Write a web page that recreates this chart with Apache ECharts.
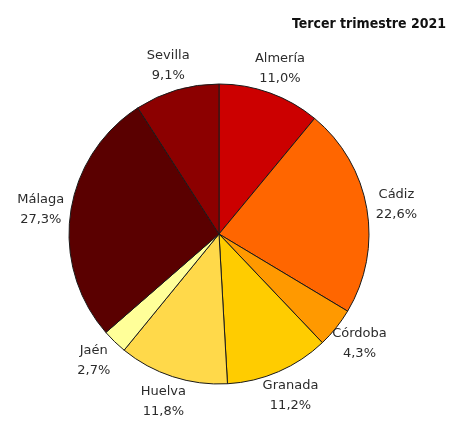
<!DOCTYPE html>
<html>
<head>
<meta charset="utf-8">
<script src="https://cdn.jsdelivr.net/npm/echarts@6/dist/echarts.min.js"></script>
<style>
  html, body { margin: 0; padding: 0; background: #fff; }
  #main { width: 453px; height: 428px; }
</style>
</head>
<body>
<div id="main"></div>
<script>
  // datos del gráfico
  var provincias = ['Almería', 'Cádiz', 'Córdoba', 'Granada', 'Huelva', 'Jaén', 'Málaga', 'Sevilla'];
  var porcentajes = [11.0, 22.6, 4.3, 11.2, 11.8, 2.7, 27.3, 9.1];
  var colores = ['#CC0000', '#FF6600', '#FF9900', '#FFCC00', '#FFD94A', '#FFFF99', '#5A0000', '#8C0000'];
  var titulo = 'Tercer trimestre 2021';

  var cx = 219, cy = 234, radio = 150;
  var textoRx = 180, textoRy = 176;

  var total = porcentajes.reduce(function (a, b) { return a + b; }, 0);
  // angulo medio de cada sector (sentido horario desde arriba)
  var angMedio = [];
  var acum = 0;
  porcentajes.forEach(function (v) {
    angMedio.push((acum + v / 2) / total * Math.PI * 2);
    acum += v;
  });

  var myChart = echarts.init(document.getElementById('main'));
  var option = {
    animation: false,
    title: {
      text: titulo,
      right: 2,
      top: 12,
      textStyle: {
        fontFamily: 'DejaVu Sans Condensed',
        fontWeight: 'bold',
        fontSize: 14,
        color: '#111'
      }
    },
    series: [{
      type: 'pie',
      center: [cx, cy],
      radius: [0, radio],
      startAngle: 90,
      clockwise: true,
      data: provincias.map(function (p, i) {
        return { name: p, value: porcentajes[i], itemStyle: { color: colores[i] } };
      }),
      itemStyle: {
        borderColor: '#1a1a1a',
        borderWidth: 1
      },
      label: {
        show: true,
        position: 'outside',
        overflow: 'none',
        formatter: function (p) {
          return p.name + '\n' + p.value.toFixed(1).replace('.', ',') + '%';
        },
        fontFamily: 'DejaVu Sans',
        fontSize: 13,
        lineHeight: 20,
        color: '#2b2b2b'
      },
      labelLine: { show: false },
      labelLayout: function (params) {
        var a = angMedio[params.dataIndex];
        return {
          x: cx + Math.sin(a) * textoRx,
          y: cy - Math.cos(a) * textoRy,
          align: 'center',
          verticalAlign: 'middle'
        };
      }
    }]
  };
  myChart.setOption(option);
</script>
</body>
</html>
